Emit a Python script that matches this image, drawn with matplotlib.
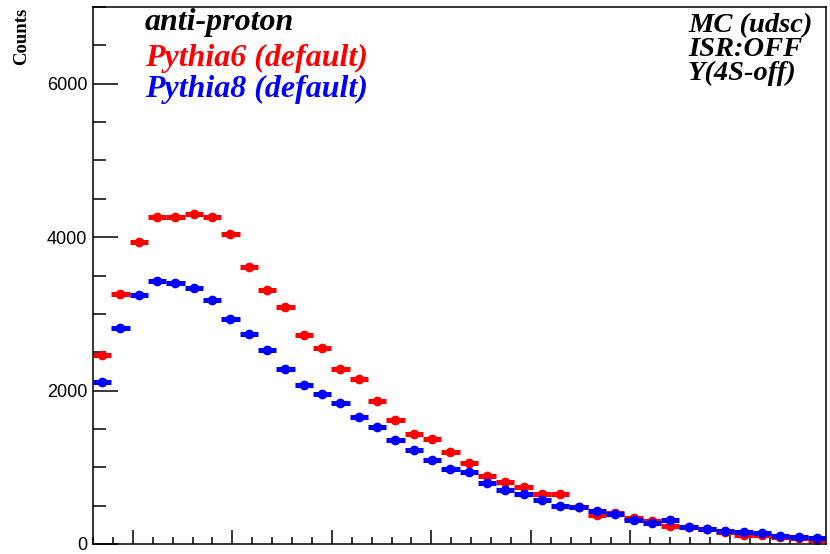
import numpy as np
import matplotlib
matplotlib.use('Agg')
import matplotlib.pyplot as plt
import matplotlib.ticker as ticker

# 40 momentum bins, counts
n_bins = 40
x_lo, x_hi = -0.4, 6.965

pythia6 = [2466, 3254, 3937, 4259, 4259, 4298, 4267, 4037, 3615, 3315,
           3093, 2719, 2549, 2284, 2149, 1866, 1622, 1431, 1366, 1200,
           1057, 891, 805, 744, 649, 653, 487, 378, 400, 344,
           300, 239, 218, 200, 157, 117, 113, 87, 83, 52]
pythia8 = [2118, 2815, 3240, 3423, 3402, 3332, 3175, 2932, 2732, 2528,
           2280, 2075, 1949, 1836, 1661, 1527, 1361, 1223, 1092, 983,
           936, 796, 701, 656, 579, 496, 479, 431, 391, 318,
           278, 309, 218, 200, 170, 161, 139, 109, 91, 83]

edges = np.linspace(x_lo, x_hi, n_bins + 1)
centers = 0.5 * (edges[1:] + edges[:-1])
half = 0.5 * (edges[1] - edges[0])

fig = plt.figure(figsize=(8.3, 5.54), dpi=100)
ax = fig.add_axes([93 / 830, 10 / 554, 733 / 830, 537 / 554])

for vals, col in ((pythia6, 'red'), (pythia8, 'blue')):
    ax.errorbar(centers, vals, xerr=half, fmt='o', color=col, ms=7,
                elinewidth=3.6, capsize=0, mew=0)

ax.set_xlim(x_lo, x_hi)
ax.set_ylim(0, 7000)

ax.xaxis.set_major_locator(ticker.MultipleLocator(1))
ax.xaxis.set_minor_locator(ticker.MultipleLocator(0.2))
ax.yaxis.set_major_locator(ticker.MultipleLocator(2000))
ax.yaxis.set_minor_locator(ticker.MultipleLocator(500))
ax.tick_params(axis='both', which='both', direction='in', top=False, right=False, width=1.1)
ax.tick_params(axis='y', which='major', length=18, pad=4, labelsize=13)
ax.tick_params(axis='y', which='minor', length=9)
ax.tick_params(axis='x', which='major', length=10, labelbottom=False)
ax.tick_params(axis='x', which='minor', length=5)
for lab in ax.get_yticklabels():
    lab.set_family('Liberation Sans')
for sp in ax.spines.values():
    sp.set_linewidth(1.1)

fig.text(22 / 830, 1 - 8 / 554, 'Counts', rotation=90, ha='center', va='top',
         family='Liberation Serif', weight='bold', fontsize=13.5)

serif = dict(family='Liberation Serif', weight='bold', style='italic')
fig.text(145 / 830, 1 - 30 / 554, 'anti-proton', color='black', fontsize=23, **serif)
fig.text(145 / 830, 1 - 66 / 554, 'Pythia6 (default)', color='red', fontsize=23, **serif)
fig.text(145 / 830, 1 - 97 / 554, 'Pythia8 (default)', color='blue', fontsize=23, **serif)

fig.text(688 / 830, 1 - 32 / 554, 'MC (udsc)', color='black', fontsize=20.5, **serif)
fig.text(688 / 830, 1 - 56 / 554, 'ISR:OFF', color='black', fontsize=20.5, **serif)
fig.text(688 / 830, 1 - 80 / 554, 'Y(4S-off)', color='black', fontsize=20.5, **serif)

fig.savefig('out.png', dpi=100)
